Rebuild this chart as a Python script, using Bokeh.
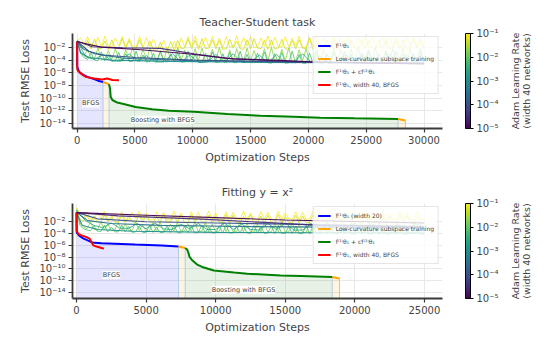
import math
from bokeh.plotting import figure
from bokeh.layouts import column, row
from bokeh.models import (ColorBar, LogColorMapper, FixedTicker, Label, Legend, LegendItem,
                          Range1d, CustomJSTickFormatter, LinearAxis)
from bokeh.palettes import Viridis256
from bokeh.embed import file_html
from bokeh.resources import INLINE

FONT = "DejaVu Sans"

# ---------------- data (exponents of 10 for loss values) ----------------
TOP_TITLE = "Teacher-Student task"
BOT_TITLE = "Fitting y = x\u00b2"
X_TICKS_TOP = [0, 5000, 10000, 15000, 20000, 25000, 30000]
X_TICKS_BOT = [0, 5000, 10000, 15000, 20000, 25000]
Y_TICK_EXP = [-14, -12, -10, -8, -6, -4, -2]
LR_TICK_EXP = [-5, -4, -3, -2, -1]
CB_LABEL = "Adam Learning Rate\n(width 40 networks)"

# Top panel: noisy Adam runs, logged every 300 steps (0..30000)
TOP_FINE = list(range(0, 30001, 300))
top_adam_fine = [
    (-1.0, [-1.0, -0.5, -1.6, -0.3, -1.8, -1.7, -0.4, -1.9, -0.2, -1.8,
            -1.9, -0.5, -1.7, -0.3, -1.9, -0.6, -1.8, -1.9, -0.3, -2.0,
            -0.4, -1.9, -0.7, -2.2, -2.1, -0.9, -2.3, -2.4, -1.0, -2.3,
            -0.5, -1.9, -0.3, -1.8, -0.2, -1.9, -1.8, -0.4, -1.9, -0.3,
            -1.8, -0.5, -2.0, -0.3, -1.9, -1.8, -0.2, -1.9, -0.4, -1.8,
            -0.3, -2.0, -1.9, -0.5, -1.8, -0.2, -1.9, -0.4, -1.8, -1.9,
            -0.3, -1.9, -0.5, -1.8, -0.2, -2.0, -1.9, -0.4, -1.8, -0.3,
            -1.9, -0.5, -1.8, -1.9, -0.2, -1.9, -0.4, -1.8, -0.3, -2.0,
            -1.9, -0.5, -1.8, -0.3, -1.9, -0.2, -1.8, -1.9, -0.4, -1.9,
            -0.3, -1.8, -0.5, -1.9, -1.8, -0.2, -1.9, -0.4, -1.8, -0.3, -1.9]),
    (-1.3, [-1.0, -2.0, -2.1, -0.9, -2.2, -0.7, -2.1, -2.2, -1.0, -2.3,
            -0.8, -2.2, -2.1, -0.6, -2.2, -0.9, -2.3, -2.2, -0.8, -2.1,
            -2.2, -1.0, -2.4, -2.5, -1.2, -2.6, -2.5, -1.1, -2.4, -0.9,
            -2.2, -2.1, -0.7, -2.2, -0.9, -2.3, -0.6, -2.2, -2.1, -0.8,
            -2.2, -0.9, -2.3, -2.2, -0.7, -2.1, -1.0, -2.2, -2.3, -0.8,
            -2.2, -0.6, -2.1, -2.2, -0.9, -2.3, -0.8, -2.2, -2.1, -0.7,
            -2.2, -2.3, -0.9, -2.2, -0.8, -2.1, -2.2, -0.6, -2.3, -0.9,
            -2.2, -2.1, -0.8, -2.2, -0.7, -2.3, -2.2, -0.9, -2.1, -0.8,
            -2.2, -2.3, -0.7, -2.2, -0.9, -2.1, -2.2, -0.8, -2.3, -0.6,
            -2.2, -2.1, -0.9, -2.2, -0.8, -2.3, -2.2, -0.7, -2.1, -0.9, -2.2]),
    (-1.7, [-1.0, -2.8, -3.4, -2.3, -3.7, -3.8, -2.1, -3.9, -3.8, -2.5,
            -3.9, -2.2, -3.9, -4.0, -2.4, -3.9, -2.0, -4.0, -3.9, -2.3,
            -4.0, -2.1, -3.9, -4.0, -2.5, -4.0, -2.2, -4.0, -3.9, -2.0,
            -4.0, -2.4, -4.1, -4.0, -2.2, -4.0, -2.1, -4.1, -4.0, -2.3,
            -4.1, -2.0, -4.0, -4.1, -2.4, -4.1, -2.2, -4.0, -4.1, -2.1,
            -4.1, -2.5, -4.1, -4.0, -2.2, -4.1, -2.0, -4.1, -4.1, -2.3,
            -4.1, -2.1, -4.2, -4.1, -2.4, -4.1, -2.2, -4.2, -4.1, -2.0,
            -4.2, -2.3, -4.1, -4.2, -2.1, -4.2, -2.4, -4.2, -4.1, -2.2,
            -4.2, -2.0, -4.2, -4.2, -2.3, -4.2, -2.1, -4.2, -4.2, -2.4,
            -4.2, -2.2, -4.3, -4.2, -2.0, -4.3, -2.3, -4.2, -4.3, -2.1, -4.3]),
    (-2.2, [-1.0, -3.0, -3.6, -3.9, -2.9, -4.0, -4.1, -2.7, -4.1, -3.1,
            -4.2, -4.1, -2.8, -4.2, -3.0, -4.2, -4.2, -2.6, -4.2, -3.2,
            -4.3, -4.2, -2.9, -4.3, -2.7, -4.2, -4.3, -3.0, -4.3, -2.8,
            -4.3, -4.3, -2.6, -4.3, -3.1, -4.3, -4.4, -2.9, -4.3, -2.7,
            -4.4, -4.3, -3.0, -4.4, -2.8, -4.4, -4.4, -2.6, -4.4, -3.1,
            -4.4, -4.4, -2.9, -4.4, -2.7, -4.4, -4.5, -3.0, -4.4, -2.8,
            -4.5, -4.4, -2.6, -4.5, -3.1, -4.5, -4.5, -2.9, -4.5, -2.7,
            -4.5, -4.5, -3.0, -4.5, -2.8, -4.5, -4.5, -2.6, -4.5, -3.1,
            -4.5, -4.5, -2.9, -4.5, -2.7, -4.6, -4.5, -3.0, -4.5, -2.8,
            -4.6, -4.5, -2.6, -4.6, -3.1, -4.5, -4.6, -2.9, -4.6, -2.7, -4.6]),
]
# Top panel: Adam runs logged every 750 steps
TOP_COARSE = list(range(0, 30001, 750))
top_adam_coarse = [
    (-2.6, [-1.0, -3.5, -3.9, -3.1, -4.1, -4.2, -3.0, -4.2, -3.3, -4.3, -4.3, -3.0, -4.3, -3.2, -4.4, -4.3, -3.1, -4.4, -3.0, -4.4, -4.3, -3.2, -4.4, -3.1, -4.4, -4.4, -3.0, -4.4, -3.3, -4.5, -4.4, -3.1, -4.5, -3.2, -4.4, -4.5, -3.0, -4.5, -3.2, -4.5, -4.5]),
]
top_adam_smooth = [
    (-3.0, [0, 300, 1000, 3000, 8000, 15000, 22000, 30000], [-1.0, -2.8, -3.6, -4.0, -4.2, -4.35, -4.4, -4.5]),
    (-3.5, [0, 500, 1500, 4000, 10000, 20000, 30000], [-1.0, -2.2, -3.0, -3.7, -4.1, -4.35, -4.5]),
    (-4.0, [0, 1000, 2200, 5000, 10000, 16000, 22000, 30000], [-1.0, -2.6, -3.2, -3.6, -4.0, -4.2, -4.35, -4.5]),
    (-4.5, [0, 1300, 4000, 7200, 10100, 13000, 15900, 18700, 22000, 30000], [-1.0, -1.9, -2.05, -2.15, -3.0, -3.75, -4.0, -4.25, -4.35, -4.55]),
    (-5.0, [0, 2070, 5500, 9540, 13500, 17600, 20400, 25000, 30000], [-1.1, -1.95, -2.37, -3.0, -3.8, -4.05, -4.3, -4.45, -4.6]),
]
top_blue_x = [0, 10, 170, 460, 890, 1470, 1900, 2240]
top_blue_e = [-1.1, -5.05, -5.85, -6.27, -6.65, -7.0, -7.3, -7.45]
top_or1_x = [2240, 2760]
top_or1_e = [-7.45, -7.8]
top_green_x = [2760, 2850, 2900, 3050, 3470, 4200, 5060, 6490, 7930, 10110, 12990, 15860, 18730, 21030, 24000, 27750]
top_green_e = [-7.8, -8.5, -9.8, -10.3, -10.7, -11.0, -11.4, -11.75, -12.0, -12.15, -12.5, -12.8, -12.95, -13.1, -13.2, -13.3]
top_or2_x = [27750, 28400]
top_or2_e = [-13.3, -13.55]
top_red_x = [0, 10, 30, 320, 750, 1470, 2180, 2610, 3050, 3620]
top_red_e = [-1.1, -5.05, -5.6, -6.1, -6.65, -6.9, -7.05, -6.9, -7.15, -7.2]
top_labels = [("BFGS", 1180, -10.85), ("Boosting with BFGS", 7400, -13.4)]
top_legend = ["f\u207d\u00b9\u207e\u03b8\u2081", "Low-curvature subspace training",
              "f\u207d\u00b9\u207e\u03b8\u2081 + cf\u207d\u00b2\u207e\u03b8\u2081",
              "f\u207d\u00b9\u207e\u03b8\u2081, width 40, BFGS"]

# Bottom panel: noisy Adam runs, logged every 250 steps (0..25000)
BOT_FINE = list(range(0, 25001, 250))
bot_adam_fine = [
    (-1.0, [0.4, -0.8, -1.4, -0.3, -1.5, -1.6, -0.4, -1.5, -0.2, -1.6,
            -1.5, -0.5, -1.6, -0.3, -1.7, -1.6, -0.4, -1.5, -0.2, -1.6,
            -0.5, -1.7, -1.6, -0.3, -1.5, -0.4, -1.6, -1.7, -0.2, -1.6,
            -0.5, -1.5, -1.6, -0.3, -1.7, -0.4, -1.6, -1.5, -0.2, -1.6,
            -0.5, -1.7, -1.6, -0.3, -1.6, -0.4, -1.5, -1.7, -0.2, -1.6,
            -0.5, -1.6, -1.7, -0.3, -1.5, -0.4, -1.6, -1.7, -0.2, -1.6,
            -0.5, -1.5, -1.6, -0.3, -1.7, -0.4, -1.6, -1.5, -0.2, -1.7,
            -0.5, -1.6, -1.6, -0.3, -1.5, -0.4, -1.7, -1.6, -0.2, -1.6,
            -0.5, -1.5, -1.7, -0.3, -1.6, -0.4, -1.6, -1.5, -0.2, -1.7,
            -0.5, -1.6, -1.6, -0.3, -1.5, -0.4, -1.7, -1.6, -0.2, -1.6, -1.5]),
    (-1.3, [0.3, -1.6, -1.9, -0.9, -2.0, -1.0, -2.0, -2.1, -0.8, -2.0,
            -1.1, -2.1, -2.0, -0.9, -2.1, -1.0, -2.0, -2.1, -0.8, -2.1,
            -0.9, -2.0, -2.1, -1.1, -2.1, -0.8, -2.1, -2.0, -1.0, -2.1,
            -0.9, -2.1, -2.2, -0.8, -2.1, -1.1, -2.0, -2.1, -0.9, -2.2,
            -1.0, -2.1, -2.1, -0.8, -2.2, -0.9, -2.1, -2.2, -1.1, -2.1,
            -0.8, -2.2, -2.1, -1.0, -2.2, -0.9, -2.1, -2.2, -0.8, -2.2,
            -1.1, -2.1, -2.2, -0.9, -2.2, -1.0, -2.2, -2.1, -0.8, -2.2,
            -0.9, -2.2, -2.2, -1.1, -2.1, -0.8, -2.2, -2.2, -1.0, -2.2,
            -0.9, -2.2, -2.3, -0.8, -2.2, -1.1, -2.2, -2.2, -0.9, -2.3,
            -1.0, -2.2, -2.2, -0.8, -2.3, -0.9, -2.2, -2.3, -1.1, -2.2, -2.3]),
    (-1.7, [0.0, -2.2, -2.9, -3.2, -2.1, -3.3, -3.4, -2.0, -3.4, -2.4,
            -3.5, -3.4, -2.1, -3.5, -2.3, -3.5, -3.5, -2.0, -3.5, -2.5,
            -3.6, -3.5, -2.2, -3.6, -2.0, -3.6, -3.6, -2.4, -3.6, -2.1,
            -3.6, -3.6, -2.3, -3.6, -2.0, -3.7, -3.6, -2.2, -3.7, -2.4,
            -3.7, -3.6, -2.1, -3.7, -2.3, -3.7, -3.7, -2.0, -3.7, -2.2,
            -3.7, -3.7, -2.4, -3.7, -2.1, -3.8, -3.7, -2.3, -3.7, -2.0,
            -3.8, -3.7, -2.2, -3.8, -2.4, -3.8, -3.8, -2.1, -3.8, -2.3,
            -3.8, -3.8, -2.0, -3.8, -2.2, -3.8, -3.8, -2.4, -3.8, -2.1,
            -3.9, -3.8, -2.3, -3.8, -2.0, -3.9, -3.8, -2.2, -3.9, -2.4,
            -3.9, -3.8, -2.1, -3.9, -2.3, -3.9, -3.9, -2.0, -3.9, -2.2, -3.9]),
    (-2.2, [0.0, -2.6, -3.2, -3.4, -3.5, -2.7, -3.6, -3.6, -2.6, -3.7,
            -2.9, -3.7, -3.7, -2.6, -3.7, -2.8, -3.8, -3.7, -2.7, -3.8,
            -3.8, -2.6, -3.8, -2.9, -3.8, -3.8, -2.7, -3.8, -2.6, -3.8,
            -3.9, -2.8, -3.8, -2.7, -3.9, -3.8, -2.6, -3.9, -2.9, -3.9,
            -3.9, -2.7, -3.9, -2.6, -3.9, -3.9, -2.8, -3.9, -2.7, -3.9,
            -4.0, -2.6, -3.9, -2.9, -4.0, -3.9, -2.7, -4.0, -2.6, -4.0,
            -4.0, -2.8, -4.0, -2.7, -4.0, -4.0, -2.6, -4.0, -2.9, -4.0,
            -4.0, -2.7, -4.0, -2.6, -4.0, -4.1, -2.8, -4.0, -2.7, -4.1,
            -4.0, -2.6, -4.1, -2.9, -4.1, -4.0, -2.7, -4.1, -2.6, -4.1,
            -4.1, -2.8, -4.1, -2.7, -4.1, -4.1, -2.6, -4.1, -2.9, -4.1, -4.1]),
]
BOT_COARSE = list(range(0, 25001, 625))
bot_adam_coarse = [
    (-2.6, [0.0, -1.8, -2.6, -3.0, -2.2, -3.1, -3.1, -2.3, -3.2, -2.2, -3.2, -3.3, -2.4, -3.2, -2.3, -3.3, -3.3, -2.2, -3.3, -2.4, -3.3, -3.4, -2.3, -3.3, -2.2, -3.4, -3.4, -2.3, -3.4, -2.4, -3.4, -3.4, -2.2, -3.5, -2.3, -3.4, -3.5, -2.4, -3.5, -2.3, -3.5]),
]
bot_adam_smooth = [
    (-3.0, [0, 400, 1500, 4000, 10000, 17000, 25000], [-0.4, -2.6, -3.3, -3.6, -3.8, -3.85, -3.9]),
    (-3.5, [0, 800, 2500, 6000, 12000, 18000, 25000], [-0.4, -1.8, -2.3, -2.6, -2.8, -2.9, -3.0]),
    (-4.0, [0, 1500, 5000, 10000, 15000, 20000, 25000], [-0.4, -1.5, -2.0, -2.2, -2.4, -2.6, -2.8]),
    (-4.5, [0, 3000, 9000, 17500, 25000], [-0.45, -1.0, -1.55, -2.6, -2.9]),
    (-5.0, [0, 5000, 10000, 15000, 20000, 25000], [-0.45, -0.9, -1.3, -1.7, -1.95, -2.2]),
]
bot_blue_x = [0, 10, 170, 480, 840, 1080, 1320, 1800, 4200, 6130, 7330]
bot_blue_e = [-0.43, -3.8, -4.3, -4.8, -5.2, -5.45, -5.57, -5.62, -5.85, -6.0, -6.2]
bot_or1_x = [7330, 7810]
bot_or1_e = [-6.2, -6.45]
bot_green_x = [7810, 7950, 8020, 8120, 8310, 8670, 9030, 9870, 11320, 12280, 14680, 16120, 18370]
bot_green_e = [-6.45, -6.7, -7.1, -7.95, -8.5, -9.25, -9.65, -10.26, -10.6, -10.8, -11.1, -11.2, -11.35]
bot_or2_x = [18370, 18900]
bot_or2_e = [-11.35, -11.6]
bot_red_x = [0, 10, 120, 360, 720, 960, 1080, 1200, 1440, 1800, 1970]
bot_red_e = [-0.43, -3.5, -4.07, -4.3, -4.6, -4.9, -5.45, -6.0, -6.2, -6.45, -6.55]
bot_labels = [("BFGS", 2515, -11.0), ("Boosting with BFGS", 12000, -13.5)]
bot_legend = ["f\u207d\u00b9\u207e\u03b8\u2081 (width 20)", "Low-curvature subspace training",
              "f\u207d\u00b9\u207e\u03b8\u2081 + cf\u207d\u00b2\u207e\u03b8\u2081",
              "f\u207d\u00b9\u207e\u03b8\u2081, width 40, BFGS"]

# ---------------- helpers ----------------
SUP_CODE = """
const e = Math.round(Math.log10(tick));
const m = {'-':'\u207b','0':'\u2070','1':'\u00b9','2':'\u00b2','3':'\u00b3','4':'\u2074','5':'\u2075','6':'\u2076','7':'\u2077','8':'\u2078','9':'\u2079'};
return '10' + String(e).split('').map(c => m[c]).join('');
"""
FLOOR = 1e-17


def pw(es):
    return [10.0 ** e for e in es]


def lr_color(e):
    i = int(round((e + 5.0) / 4.0 * 255))
    return Viridis256[max(0, min(255, i))]


def build(title, xr, yr, xticks, top_b, bot_b, fine_grid, fine, coarse_grid, coarse, smooth,
          blue, or1, green, or2, red, labels, legend_labels):
    p = figure(frame_width=370, frame_height=95,
               x_range=Range1d(*xr), y_range=Range1d(10.0 ** yr[0], 10.0 ** yr[1]),
               y_axis_type="log", output_backend="svg", toolbar_location=None,
               min_border_left=72, min_border_right=64, min_border_top=top_b,
               min_border_bottom=bot_b, title=title)
    p.title.align = "center"
    p.title.text_font = FONT
    p.title.text_font_size = "11px"
    p.title.text_font_style = "normal"
    p.outline_line_color = None
    p.background_fill_color = "white"

    p.xaxis.ticker = FixedTicker(ticks=xticks)
    p.yaxis.ticker = FixedTicker(ticks=[10.0 ** e for e in Y_TICK_EXP])
    p.yaxis.formatter = CustomJSTickFormatter(code=SUP_CODE)
    for ax in (p.xaxis, p.yaxis):
        ax.axis_line_width = 1.8
        ax.axis_line_color = "#3a3a3a"
        ax.major_tick_line_color = "#3a3a3a"
        ax.major_tick_line_width = 1.2
        ax.major_tick_out = 4
        ax.major_tick_in = 0
        ax.minor_tick_line_color = None
        ax.major_label_text_font = FONT
        ax.major_label_text_font_size = "10px"
        ax.axis_label_text_font = FONT
        ax.axis_label_text_font_size = "11px"
        ax.axis_label_text_font_style = "normal"
        ax.major_label_standoff = 3
        ax.axis_label_standoff = 4
    p.xaxis.axis_label = "Optimization Steps"
    p.yaxis.axis_label = "Test RMSE Loss"
    p.xgrid.grid_line_color = "#e8e8e8"
    p.ygrid.grid_line_color = "#e8e8e8"

    # shaded regions below the optimisation curves
    segs = []
    for (xs, es), col, a in ((blue, "blue", 0.1), (or1, "orange", 0.12),
                             (green, "green", 0.1), (or2, "orange", 0.12)):
        p.varea(x=xs, y1=[FLOOR] * len(xs), y2=pw(es), fill_color=col, fill_alpha=a)
        segs.append((xs[-1], es[-1]))
    p.segment(x0=[s[0] for s in segs], y0=[FLOOR] * len(segs),
              x1=[s[0] for s in segs], y1=[10.0 ** s[1] for s in segs],
              line_color="#b0cce4", line_width=1)

    # Adam runs
    for e, vals in fine:
        p.line(fine_grid[:len(vals)], pw(vals), line_color=lr_color(e), line_width=0.9, line_alpha=0.9)
    for e, vals in coarse:
        p.line(coarse_grid[:len(vals)], pw(vals), line_color=lr_color(e), line_width=0.9, line_alpha=0.9)
    for e, xs, vals in smooth:
        p.line(xs, pw(vals), line_color=lr_color(e), line_width=1.1, line_alpha=0.95)

    rb = p.line(blue[0], pw(blue[1]), line_color="blue", line_width=2)
    ro = p.line(or1[0], pw(or1[1]), line_color="orange", line_width=2)
    p.line(or2[0], pw(or2[1]), line_color="orange", line_width=2)
    rg = p.line(green[0], pw(green[1]), line_color="green", line_width=2)
    rr = p.line(red[0], pw(red[1]), line_color="red", line_width=2)

    for txt, x, e in labels:
        p.add_layout(Label(x=x, y=10.0 ** e, text=txt, text_font=FONT, text_font_size="6.5px",
                           text_align="center", text_baseline="middle",
                           background_fill_color="white", background_fill_alpha=0.9))

    leg = Legend(items=[LegendItem(label=legend_labels[0], renderers=[rb]),
                        LegendItem(label=legend_labels[1], renderers=[ro]),
                        LegendItem(label=legend_labels[2], renderers=[rg]),
                        LegendItem(label=legend_labels[3], renderers=[rr])],
                 location="top_right", margin=3, padding=4, spacing=4,
                 glyph_width=13, glyph_height=9, label_height=9, label_standoff=5,
                 label_text_font=FONT, label_text_font_size="6px",
                 border_line_color="#cccccc", border_line_width=1,
                 background_fill_color="white", background_fill_alpha=0.8)
    p.add_layout(leg)

    mapper = LogColorMapper(palette=Viridis256, low=10.0 ** LR_TICK_EXP[0], high=10.0 ** LR_TICK_EXP[-1])
    cb = ColorBar(color_mapper=mapper, ticker=FixedTicker(ticks=[10.0 ** e for e in LR_TICK_EXP]),
                  formatter=CustomJSTickFormatter(code=SUP_CODE),
                  width=5, padding=0, margin=0, location=(23, 0),
                  bar_line_color="black", bar_line_width=1,
                  major_tick_in=0, major_tick_out=3, major_tick_line_color="black",
                  minor_tick_line_color=None, label_standoff=3,
                  major_label_text_font=FONT, major_label_text_font_size="10px",
                  border_line_color=None, background_fill_alpha=0)
    p.add_layout(cb, "right")
    return p


def cb_label_panel(height):
    # narrow companion plot whose (otherwise empty) y axis carries the colour-bar label
    q = figure(width=30, height=height, x_range=Range1d(0, 1), y_range=Range1d(0, 1),
               x_axis_location=None, y_axis_location="left", output_backend="svg",
               toolbar_location=None, min_border=0)
    q.grid.visible = False
    q.outline_line_color = None
    ax = q.yaxis[0]
    ax.ticker = FixedTicker(ticks=[])
    ax.axis_line_color = None
    ax.major_tick_line_color = None
    ax.minor_tick_line_color = None
    ax.major_label_text_font_size = "0px"
    ax.major_label_standoff = 0
    ax.axis_label = CB_LABEL
    ax.axis_label_text_font = FONT
    ax.axis_label_text_font_size = "9.5px"
    ax.axis_label_text_font_style = "normal"
    ax.axis_label_text_line_height = 1.0
    ax.axis_label_standoff = 0
    return q


p1 = build(TOP_TITLE, (-400, 31600), (-14.8, 0.2), X_TICKS_TOP, 33, 47,
           TOP_FINE, top_adam_fine, TOP_COARSE, top_adam_coarse, top_adam_smooth,
           (top_blue_x, top_blue_e), (top_or1_x, top_or1_e),
           (top_green_x, top_green_e), (top_or2_x, top_or2_e), (top_red_x, top_red_e),
           top_labels, top_legend)
p2 = build(BOT_TITLE, (-290, 26300), (-15.0, 1.1), X_TICKS_BOT, 28, 44,
           BOT_FINE, bot_adam_fine, BOT_COARSE, bot_adam_coarse, bot_adam_smooth,
           (bot_blue_x, bot_blue_e), (bot_or1_x, bot_or1_e),
           (bot_green_x, bot_green_e), (bot_or2_x, bot_or2_e), (bot_red_x, bot_red_e),
           bot_labels, bot_legend)

q1 = cb_label_panel(175)
q2 = cb_label_panel(167)

layout = column(row(p1, q1, spacing=0), row(p2, q2, spacing=0), spacing=0)
open("out.html", "w").write(file_html(layout, INLINE))
